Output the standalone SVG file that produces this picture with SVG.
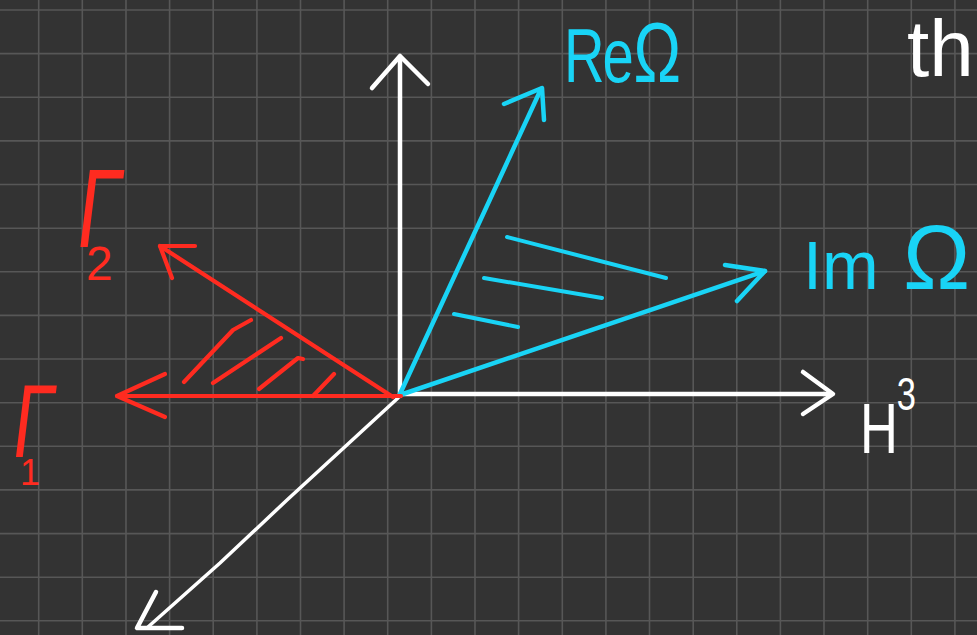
<svg xmlns="http://www.w3.org/2000/svg" width="977" height="635" viewBox="0 0 977 635">
<style>
.grid{stroke:#575757;stroke-width:1.6;fill:none}
.ln{fill:none;stroke-linecap:round;stroke-linejoin:round}
.w{stroke:#ffffff;stroke-width:4.5}
.wt{stroke:#ffffff;stroke-width:3.5}
.c{stroke:#19d4f6;stroke-width:4.5}
.ch{stroke:#19d4f6;stroke-width:4}
.r{stroke:#ff2b20;stroke-width:4.2}
.lbl{font-family:"Liberation Sans","DejaVu Sans",sans-serif}
.tc{fill:#19d4f6}
.tw{fill:#ffffff}
.tr{fill:#ff2b20}
</style>
<rect x="0" y="0" width="977" height="635" fill="#333333"/>
<g id="grid">
<path class="grid" d="M38.7,0V635M82.3,0V635M126,0V635M169.6,0V635M213.2,0V635M256.9,0V635M300.5,0V635M344.1,0V635M387.7,0V635M431.4,0V635M475,0V635M518.6,0V635M562.3,0V635M605.9,0V635M649.5,0V635M693.2,0V635M736.8,0V635M780.4,0V635M824,0V635M867.7,0V635M911.3,0V635M954.9,0V635M0,10H977M0,53.6H977M0,97.3H977M0,140.9H977M0,184.5H977M0,228.2H977M0,271.8H977M0,315.4H977M0,359H977M0,402.7H977M0,446.3H977M0,489.9H977M0,533.6H977M0,577.2H977M0,620.8H977"/>
</g>
<g id="connectors">
<g id="axis-up"><path class="ln w" d="M400,396L400,57"/><path class="ln w" d="M372,88L400,56L428,84"/></g>
<g id="axis-h3"><path class="ln w" d="M400,394L832,394"/><path class="ln w" d="M803,372L833,394L803,414"/></g>
<g id="axis-diag"><path class="ln wt" d="M398,398L287,500L220,563L148,627"/><path class="ln w" d="M156,592L137,628L182,628"/></g>
<g id="re-omega"><path class="ln c" d="M400,394L541,89"/><path class="ln c" d="M504,104L542,88L544,120"/></g>
<g id="im-omega"><path class="ln c" d="M400,395L765,271"/><path class="ln c" d="M725,265L765,271L737,301"/></g>
<g id="cyan-hatch"><path class="ln ch" d="M507,237L666,278M484,278L602,298M454,314L518,327"/></g>
<g id="gamma1"><path class="ln r" d="M401,396L117,396"/><path class="ln r" d="M165,374L117,396L165,417"/></g>
<g id="gamma2"><path class="ln r" d="M393,397L160,246"/><path class="ln r" d="M195,246L160,246L172,278"/></g>
<g id="red-hatch"><path class="ln r" d="M184,382L233,330L251,320M213,383L281,338M259,389L298,358L303,359M313,396L334,374"/></g>
</g>
<g id="label-re">
<text class="lbl tc" transform="translate(564,82) scale(0.74,1)" font-size="76"><tspan x="0">R</tspan><tspan x="52">e</tspan> <tspan x="94" font-size="86">Ω</tspan></text>
</g>
<g id="label-im">
<text class="lbl tc" x="803" y="289" font-size="68">Im <tspan x="903" font-size="90">Ω</tspan></text>
</g>
<g id="label-h3">
<text class="lbl tw" transform="translate(860,453) scale(0.75,1)" font-size="70">H<tspan x="49" y="-43" font-size="46">3</tspan></text>
</g>
<g id="label-th">
<text class="lbl tw" x="907" y="76" font-size="80">th</text>
</g>
<g id="label-gamma2">
<text class="lbl tr" transform="translate(74,247) skewX(-7) scale(0.7,1)" font-size="112">Γ</text>
<text class="lbl tr" x="86" y="280" font-size="48">2</text>
</g>
<g id="label-gamma1">
<text class="lbl tr" transform="translate(10,457) skewX(-7) scale(0.7,1)" font-size="104">Γ</text>
<text class="lbl tr" x="20" y="485" font-size="36">1</text>
</g>
</svg>
